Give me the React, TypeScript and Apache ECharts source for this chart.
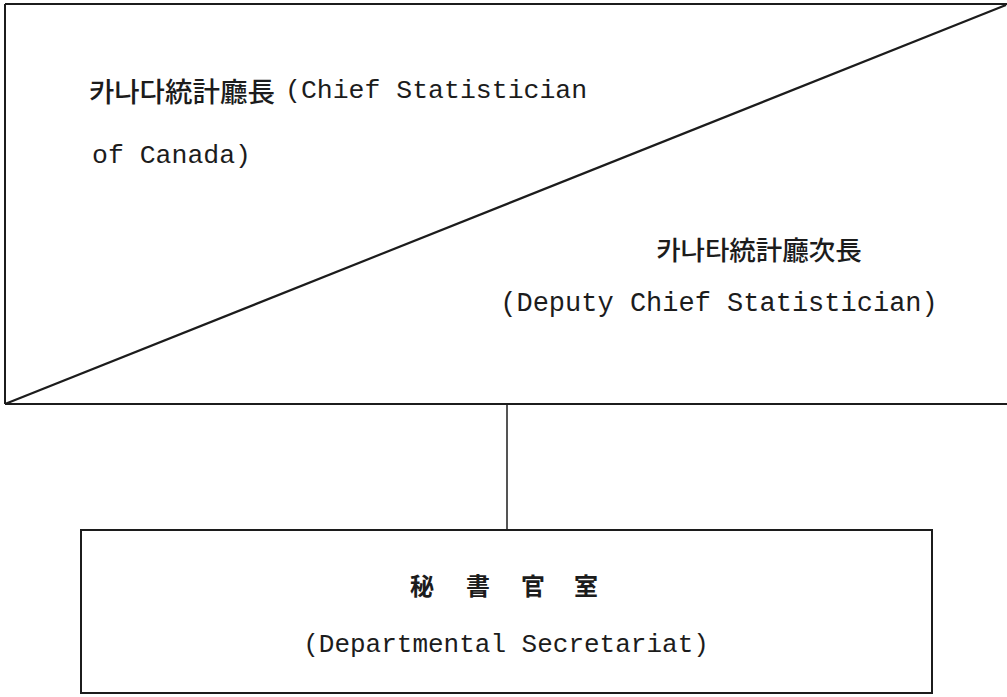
import React, { useEffect, useRef } from "react";
import * as echarts from "echarts";

// Labels of the organisation chart
const chiefKo: string = "카나다統計廳長";
const chiefEn: string[] = ["(Chief Statistician", "of Canada)"];
const deputyKo: string = "카나타統計廳次長";
const deputyEn: string = "(Deputy Chief Statistician)";
const secretariatKo: string[] = ["秘", "書", "官", "室"];
const secretariatEn: string = "(Departmental Secretariat)";

const MONO = "'Liberation Mono', 'DejaVu Sans Mono', monospace";
const CJK = "'Noto Sans CJK KR', 'Noto Sans CJK SC', sans-serif";
const INK = "#1c1c1c";

export default function App() {
  const ref = useRef<HTMLDivElement>(null);

  useEffect(() => {
    if (!ref.current) return;
    const chart = echarts.init(ref.current, undefined, { renderer: "svg" });

    const lineStyle = { stroke: INK, lineWidth: 2 };
    const secXs = [422, 478, 533, 586];

    const graphic: any[] = [
      // top box (right side runs off the page)
      { type: "line", shape: { x1: 5, y1: 4, x2: 1007, y2: 4 }, style: lineStyle },
      { type: "line", shape: { x1: 5, y1: 4, x2: 5, y2: 404 }, style: lineStyle },
      { type: "line", shape: { x1: 5, y1: 404, x2: 1007, y2: 404 }, style: lineStyle },
      { type: "line", shape: { x1: 5, y1: 404, x2: 1006, y2: 5 }, style: { stroke: INK, lineWidth: 2.2 } },
      // connector
      { type: "line", shape: { x1: 507, y1: 404, x2: 507, y2: 530 }, style: { stroke: INK, lineWidth: 1.5 } },
      // bottom box
      { type: "rect", shape: { x: 81, y: 530, width: 851, height: 163 }, style: { fill: "none", stroke: INK, lineWidth: 2 } },
      // texts
      { type: "text", x: 89, y: 90, style: { text: chiefKo, font: `500 27.5px ${CJK}`, fill: INK, textAlign: "left", textVerticalAlign: "middle" } },
      { type: "text", x: 285, y: 91, style: { text: chiefEn[0], font: `26.5px ${MONO}`, fill: INK, textAlign: "left", textVerticalAlign: "middle" } },
      { type: "text", x: 92, y: 156, style: { text: chiefEn[1], font: `26.5px ${MONO}`, fill: INK, textAlign: "left", textVerticalAlign: "middle" } },
      { type: "text", x: 759, y: 248, style: { text: deputyKo, font: `500 26.5px ${CJK}`, fill: INK, textAlign: "center", textVerticalAlign: "middle" } },
      { type: "text", x: 719, y: 304, style: { text: deputyEn, font: `27px ${MONO}`, fill: INK, textAlign: "center", textVerticalAlign: "middle" } },
      ...secretariatKo.map((c, i) => ({
        type: "text", x: secXs[i], y: 584,
        style: { text: c, font: `bold 24px ${CJK}`, fill: INK, textAlign: "center", textVerticalAlign: "middle" },
      })),
      { type: "text", x: 506, y: 645, style: { text: secretariatEn, font: `26px ${MONO}`, fill: INK, textAlign: "center", textVerticalAlign: "middle" } },
    ];

    chart.setOption({
      animation: false,
      backgroundColor: "#ffffff",
      graphic,
    });

    return () => chart.dispose();
  }, []);

  return (
    <div
      ref={ref}
      style={{ position: "absolute", left: 0, top: 0, width: 1007, height: 697, background: "#fff" }}
    />
  );
}
